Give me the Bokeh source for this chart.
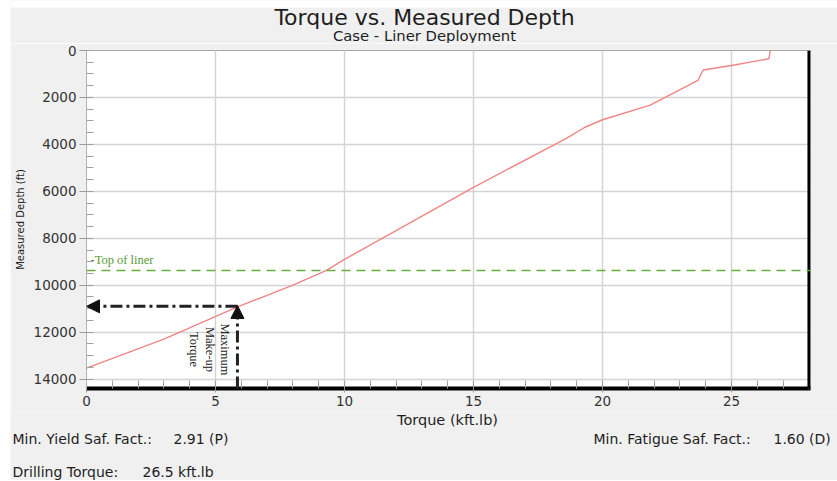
from math import pi
from bokeh.plotting import figure
from bokeh.layouts import column
from bokeh.models import (Range1d, SingleIntervalTicker, Span, Label, Arrow,
                          NormalHead, ColumnDataSource, BoxAnnotation)
from bokeh.core.properties import value
from bokeh.embed import file_html
from bokeh.resources import INLINE

# ---------------- data ----------------
torque = [26.5, 26.45, 25.0, 23.9, 23.7, 21.85, 20.0, 19.3, 18.6, 15.0,
          10.0, 9.3, 8.0, 5.9, 3.0, 0.0]
depth = [0, 350, 640, 830, 1270, 2330, 2950, 3280, 3740, 5830,
         8900, 9370, 10000, 10900, 12300, 13530]
liner_top_depth = 9370
max_makeup_torque = 5.85
max_makeup_depth = 10900
x_tick_interval = 5
y_tick_interval = 2000

title = "Torque vs. Measured Depth"
subtitle = "Case - Liner Deployment"
x_label = "Torque (kft.lb)"
y_label = "Measured Depth (ft)"
info = [("Min. Yield Saf. Fact.:", "2.91 (P)"),
        ("Min. Fatigue Saf. Fact.:", "1.60 (D)"),
        ("Drilling Torque:", "26.5 kft.lb")]

# ---------------- layout ----------------
BG = "#f0f0f0"
W = 827                # canvas width (window 837 minus 10px white margin)
OX, OY = 10, 7         # window offset of the gray area
MAIN_TOP = 43
BOT_TOP = 411
TOP_H = MAIN_TOP
MAIN_H = BOT_TOP - MAIN_TOP
BOT_H = 480 - BOT_TOP
X_MAX = 28.06
Y_MAX = 14400
FL, FR, FT, FB = 86, 810, 50, 388  # frame edges in window px
BASE_SHIFT = 0.33      # em: correction of the alphabetic baseline position


def dx(px):
    return (px - FL) / (FR - FL) * X_MAX


def dy(py):
    return (py - FT) / (FB - FT) * Y_MAX


def strip(height):
    f = figure(width=W, height=height, x_range=Range1d(0, W),
               y_range=Range1d(height, 0), output_backend="svg",
               toolbar_location=None, min_border=0, frame_align=False,
               x_axis_type=None, y_axis_type=None)
    f.background_fill_color = BG
    f.border_fill_color = BG
    f.outline_line_color = None
    f.grid.visible = False
    return f


def strip_label(fig, top_y, x, base_y, text, size, align="left"):
    fig.add_layout(Label(x=x - OX, y=base_y - top_y - BASE_SHIFT * size,
                         text=text, text_align=align,
                         text_baseline="alphabetic",
                         text_font="DejaVu Sans", text_font_size=f"{size}px",
                         text_color="#1e1e1e"))


# ---------- title strip (window y 0..43, white band on top) ----------
top = strip(TOP_H)
top.add_layout(BoxAnnotation(top=0, bottom=OY, fill_color="white",
                             fill_alpha=1.0, line_color=None))
strip_label(top, 0, 424, 24, title, 22, "center")
strip_label(top, 0, 424, 39.5, subtitle, 14.8, "center")

# ---------- main chart ----------
p = figure(width=W, height=MAIN_H, frame_align=False,
           x_range=Range1d(0, X_MAX), y_range=Range1d(Y_MAX, 0),
           output_backend="svg", toolbar_location=None,
           min_border_left=FL - OX, min_border_right=W - (FR - OX),
           min_border_top=FT - MAIN_TOP, min_border_bottom=BOT_TOP - FB)
p.background_fill_color = "white"
p.border_fill_color = BG
p.outline_line_color = "#a8a8a8"
p.outline_line_width = 1

p.xaxis.ticker = SingleIntervalTicker(interval=x_tick_interval, num_minor_ticks=5)
p.yaxis.ticker = SingleIntervalTicker(interval=y_tick_interval, num_minor_ticks=4)
p.xgrid.ticker = p.xaxis.ticker
p.ygrid.ticker = p.yaxis.ticker
for g in (p.xgrid, p.ygrid):
    g.grid_line_color = "#d4d4d4"
    g.grid_line_width = 1.5

for ax in (p.xaxis, p.yaxis):
    ax.major_label_text_font = "DejaVu Sans"
    ax.major_label_text_font_size = "13.5px"
    ax.major_label_text_color = "#333333"
    ax.axis_label_text_font_style = "normal"
    ax.axis_label_text_color = "#222222"
    ax.major_tick_in = 0
    ax.minor_tick_out = 0
    ax.major_tick_line_color = "#9a9a9a"
    ax.minor_tick_line_color = "#a0a0a0"

p.xaxis.major_label_standoff = 3
p.xaxis.major_tick_out = 4
p.xaxis.minor_tick_in = 8
p.xaxis.axis_line_width = 4
p.xaxis.axis_line_color = "black"

p.yaxis.axis_label = y_label
p.yaxis.axis_label_text_font = "DejaVu Sans"
p.yaxis.axis_label_text_font_size = "10px"
p.yaxis.axis_label_standoff = 5
p.yaxis.major_label_standoff = 3
p.yaxis.major_tick_out = 7
p.yaxis.minor_tick_in = 7
p.yaxis.axis_line_color = "#b0b0b0"

# right shadow border
p.add_layout(Span(location=X_MAX - 0.06, dimension="height",
                  line_color="black", line_width=3))

# torque curve
p.line(torque, depth, line_color="#f08585", line_width=1.4)

# top of liner
p.add_layout(Span(location=liner_top_depth, dimension="width",
                  line_color="#6aad3c", line_dash="9 6", line_width=1.6))
p.add_layout(Label(x=dx(90), y=dy(259), text="-Top of liner",
                   text_font="Liberation Serif", text_font_size="12.5px",
                   text_color="#5a9a35", text_baseline="middle"))

# maximum make-up torque arrows
head_kw = dict(fill_color="#111111", line_color="#111111")
p.add_layout(Arrow(end=NormalHead(size=13, **head_kw),
                   x_start=max_makeup_torque, y_start=max_makeup_depth,
                   x_end=0.0, y_end=max_makeup_depth,
                   line_color="#222222", line_width=3, line_dash="12 4 3 4"))
p.add_layout(Arrow(end=NormalHead(size=13, **head_kw),
                   x_start=max_makeup_torque, y_start=Y_MAX,
                   x_end=max_makeup_torque, y_end=max_makeup_depth - 40,
                   line_color="#222222", line_width=3, line_dash="12 4 3 4"))
src = ColumnDataSource(dict(x=[dx(209)], y=[dy(349)],
                            t=["Maximum\nMake-up\nTorque"]))
p.text(x="x", y="y", text="t", source=src, angle=-pi / 2,
       text_align="center", text_baseline="middle",
       text_font=value("Liberation Serif"), text_font_size="12.5px",
       text_line_height=1.1, text_color="#222222")

# ---------- bottom strip: axis title + info ----------
bot = strip(BOT_H)
strip_label(bot, BOT_TOP, (FL + FR) / 2 - 1, 424, x_label, 14.5, "center")
info_pos = [((12, 443), (173, 443)), ((593, 443), (773, 443)),
            ((12, 476), (142, 476))]
for (lab, val), ((lx, ly), (vx, vy)) in zip(info, info_pos):
    strip_label(bot, BOT_TOP, lx, ly, lab, 14)
    strip_label(bot, BOT_TOP, vx, vy, val, 14)

layout = column(top, p, bot, spacing=0, margin=(0, 0, 1, OX))
open("out.html", "w").write(file_html(layout, INLINE))
